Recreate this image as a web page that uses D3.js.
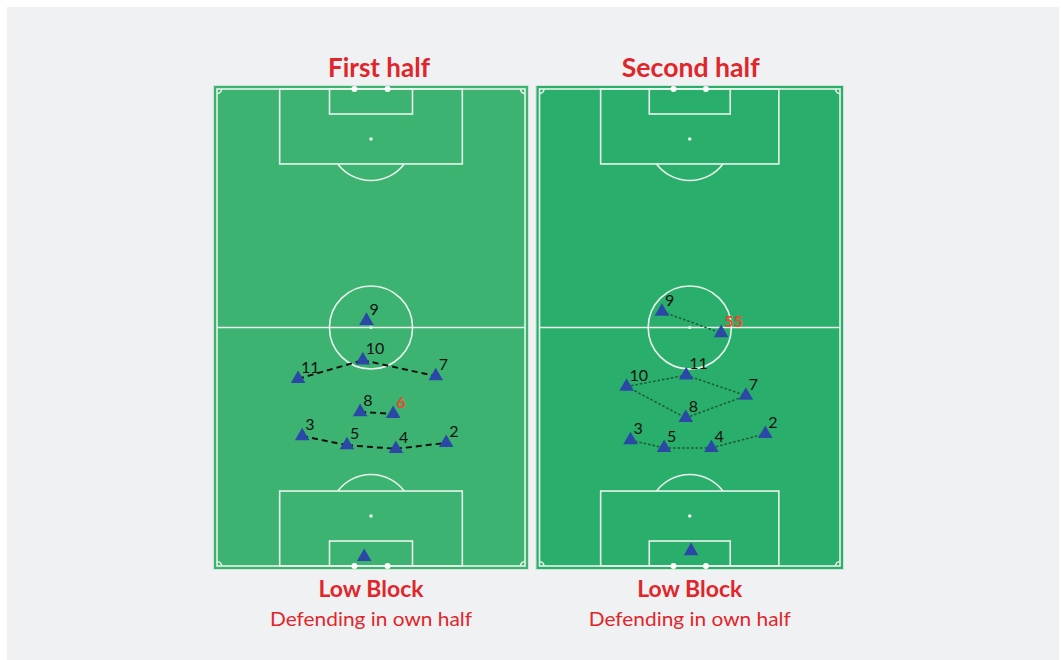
<!DOCTYPE html>
<html>
<head>
<meta charset="utf-8">
<script src="https://cdn.jsdelivr.net/npm/d3@7"></script>
<style>
  body { margin: 0; background: #ffffff; }
  svg { display: block; }
</style>
</head>
<body>
<div id="chart"></div>
<script>
// Page size
const width = 1061;
const height = 660;

// Pitch size in metres
const pitchW = 68;
const pitchL = 105;

// Titles
const titles = ["First half", "Second half"];
const captionMain = "Low Block";
const captionSub = "Defending in own half";

// First half: shirt numbers and positions (metres across, metres down from top goal line)
const firstNumbers = ["1", "2", "3", "4", "5", "6", "7", "8", "9", "10", "11"];
const firstX = [32.5, 50.6, 18.8, 39.5, 28.7, 38.9, 48.3, 31.6, 33.0, 32.2, 17.9];
const firstY = [103.0, 77.9, 76.4, 79.2, 78.4, 71.5, 63.2, 71.1, 51.0, 59.7, 63.8];
const firstLinks = [["11", "10"], ["10", "7"], ["8", "6"], ["3", "5"], ["5", "4"], ["4", "2"]];
const firstRed = ["6"];

// Second half
const secondNumbers = ["1", "2", "3", "4", "5", "55", "7", "8", "9", "10", "11"];
const secondX = [34.3, 51.1, 20.6, 38.9, 28.2, 41.1, 46.7, 33.1, 27.7, 19.7, 33.2];
const secondY = [101.7, 75.9, 77.3, 79.0, 79.0, 53.7, 67.5, 72.4, 49.0, 65.5, 63.0];
const secondLinks = [["9", "55"], ["10", "11"], ["11", "7"], ["10", "8"], ["8", "7"], ["3", "5"], ["5", "4"], ["4", "2"]];
const secondRed = ["55"];

const svg = d3.select("#chart").append("svg")
    .attr("width", width)
    .attr("height", height);

// grey panel with a thin white frame
svg.append("rect")
    .attr("x", 7).attr("y", 7)
    .attr("width", width - 9).attr("height", height - 7)
    .attr("fill", "#f0f1f3");

const lineColor = "#e9f3ec";
const red = "#e0262b";

function drawPitch(x, y, fill) {
    const g = svg.append("g");
    const sx = m => Math.abs(x(m) - x(0));
    const sy = m => Math.abs(y(m) - y(0));

    // grass
    g.append("rect")
        .attr("x", x(0) - 3.5).attr("y", y(0) - 3.5)
        .attr("width", x(pitchW) - x(0) + 7).attr("height", y(pitchL) - y(0) + 7)
        .attr("fill", fill)
        .attr("stroke", "#cfe3d6").attr("stroke-width", 1);

    const line = sel => sel.attr("fill", "none").attr("stroke", lineColor).attr("stroke-width", 1.6);

    // outline + halfway line
    g.append("rect")
        .attr("x", x(0)).attr("y", y(0))
        .attr("width", x(pitchW) - x(0)).attr("height", y(pitchL) - y(0))
        .call(line);
    g.append("line")
        .attr("x1", x(0)).attr("x2", x(pitchW))
        .attr("y1", y(pitchL / 2)).attr("y2", y(pitchL / 2))
        .call(line);
    g.append("circle")
        .attr("cx", x(pitchW / 2)).attr("cy", y(pitchL / 2))
        .attr("r", sy(9.15))
        .call(line);
    g.append("circle")
        .attr("cx", x(pitchW / 2)).attr("cy", y(pitchL / 2))
        .attr("r", 1.6).attr("fill", lineColor);

    // both ends
    [0, pitchL].forEach(end => {
        const dir = end === 0 ? 1 : -1;
        // penalty area
        g.append("rect")
            .attr("x", x(pitchW / 2 - 20.16))
            .attr("y", Math.min(y(end), y(end + dir * 16.5)))
            .attr("width", sx(40.32)).attr("height", sy(16.5))
            .call(line);
        // goal area
        g.append("rect")
            .attr("x", x(pitchW / 2 - 9.16))
            .attr("y", Math.min(y(end), y(end + dir * 5.5)))
            .attr("width", sx(18.32)).attr("height", sy(5.5))
            .call(line);
        // penalty spot
        g.append("circle")
            .attr("cx", x(pitchW / 2)).attr("cy", y(end + dir * 11))
            .attr("r", 1.8).attr("fill", lineColor);
        // arc outside the box
        const r = sy(9.15);
        const dy = sy(5.5);
        const a = Math.acos(dy / r);
        const arc = d3.arc().innerRadius(r).outerRadius(r)
            .startAngle(dir > 0 ? Math.PI - a : -a)
            .endAngle(dir > 0 ? Math.PI + a : a);
        g.append("path")
            .attr("transform", `translate(${x(pitchW / 2)},${y(end + dir * 11)})`)
            .attr("d", arc())
            .call(line);
        // goal posts
        [-3.66, 3.66].forEach(p => {
            g.append("circle")
                .attr("cx", x(pitchW / 2 + p)).attr("cy", y(end))
                .attr("r", 3).attr("fill", "#ffffff");
        });
        // corner arcs
        [0, pitchW].forEach(side => {
            const sdir = side === 0 ? 1 : -1;
            g.append("path")
                .attr("d", `M${x(side + sdir * 1)},${y(end)} A${sx(1)},${sy(1)} 0 0 ${dir * sdir > 0 ? 1 : 0} ${x(side)},${y(end + dir * 1)}`)
                .call(line);
        });
    });
    return g;
}

function drawPlayers(x, y, numbers, xs, ys, links, reds, linkStyle) {
    const players = numbers.map((n, i) => ({ n: n, x: xs[i], y: ys[i] }));
    const byNum = new Map(players.map(d => [d.n, d]));
    const g = svg.append("g");

    g.selectAll("line.link")
        .data(links)
        .enter().append("line")
        .attr("class", "link")
        .attr("x1", d => x(byNum.get(d[0]).x)).attr("y1", d => y(byNum.get(d[0]).y))
        .attr("x2", d => x(byNum.get(d[1]).x)).attr("y2", d => y(byNum.get(d[1]).y))
        .attr("stroke", linkStyle.color)
        .attr("stroke-width", linkStyle.width)
        .attr("stroke-dasharray", linkStyle.dash);

    const tri = d3.symbol().type(d3.symbolTriangle).size(92);
    g.selectAll("path.player")
        .data(players)
        .enter().append("path")
        .attr("class", "player")
        .attr("transform", d => `translate(${x(d.x)},${y(d.y)})`)
        .attr("d", tri())
        .attr("fill", "#2c48a6");

    g.selectAll("text.num")
        .data(players.filter(d => d.n !== "1"))
        .enter().append("text")
        .attr("class", "num")
        .attr("x", d => x(d.x) + 3)
        .attr("y", d => y(d.y) - 6)
        .attr("font-family", "Lato, 'Open Sans', sans-serif")
        .attr("font-size", 16)
        .attr("font-weight", d => reds.includes(d.n) ? 700 : 400)
        .attr("fill", d => reds.includes(d.n) ? "#ea4a2a" : "#111111")
        .text(d => d.n);
}

const yScale = d3.scaleLinear().domain([0, pitchL]).range([89, 566]);
const xLeft = d3.scaleLinear().domain([0, pitchW]).range([217, 525]);
const xRight = d3.scaleLinear().domain([0, pitchW]).range([539.5, 840]);

drawPitch(xLeft, yScale, "#3cb371");
drawPitch(xRight, yScale, "#2aae6b");

drawPlayers(xLeft, yScale, firstNumbers, firstX, firstY, firstLinks, firstRed,
    { color: "#111111", width: 2, dash: "6,4" });
drawPlayers(xRight, yScale, secondNumbers, secondX, secondY, secondLinks, secondRed,
    { color: "#1b5a38", width: 1.5, dash: "2.5,2" });

// titles and captions
const blocks = [
    { x: xLeft, title: titles[0], titleDx: 8, titleW: 102 },
    { x: xRight, title: titles[1], titleDx: 1, titleW: 138 }
];
blocks.forEach(b => {
    const cx = b.x(pitchW / 2);
    svg.append("text")
        .attr("x", cx + b.titleDx).attr("y", 77)
        .attr("text-anchor", "middle")
        .attr("font-family", "Lato, 'Open Sans', sans-serif")
        .attr("font-weight", 700).attr("font-size", 26)
        .attr("textLength", b.titleW).attr("lengthAdjust", "spacingAndGlyphs")
        .attr("fill", red)
        .text(b.title);
    svg.append("text")
        .attr("x", cx).attr("y", 597)
        .attr("text-anchor", "middle")
        .attr("font-family", "Lato, 'Open Sans', sans-serif")
        .attr("font-weight", 700).attr("font-size", 23)
        .attr("textLength", 105).attr("lengthAdjust", "spacingAndGlyphs")
        .attr("fill", red)
        .text(captionMain);
    svg.append("text")
        .attr("x", cx).attr("y", 626)
        .attr("text-anchor", "middle")
        .attr("font-family", "Lato, 'Open Sans', sans-serif")
        .attr("font-size", 19)
        .attr("textLength", 202).attr("lengthAdjust", "spacingAndGlyphs")
        .attr("fill", red)
        .text(captionSub);
});
</script>
</body>
</html>
